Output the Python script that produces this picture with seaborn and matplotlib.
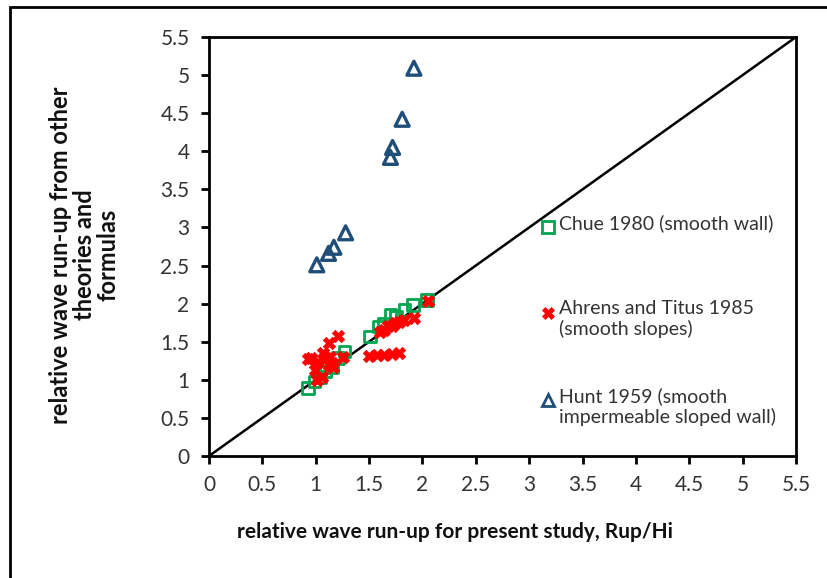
import matplotlib
matplotlib.use("Agg")
import matplotlib.pyplot as plt
import seaborn as sns
import pandas as pd
from matplotlib.patches import Rectangle

# Data
chue_x = [0.93, 0.99, 1.04, 1.09, 1.15, 1.21, 1.27, 1.51, 1.59, 1.64, 1.70, 1.75, 1.83, 1.91, 2.04]
chue_y = [0.89, 0.98, 1.04, 1.11, 1.17, 1.29, 1.37, 1.57, 1.70, 1.74, 1.85, 1.83, 1.92, 1.98, 2.05]

ahrens_x = [0.93, 0.96, 0.99, 1.01, 1.02, 1.06, 1.07, 1.10, 1.12, 1.12, 1.13, 1.16, 1.21, 1.26, 1.15,
            1.50, 1.57, 1.64, 1.71, 1.78,
            1.60, 1.64, 1.68, 1.71, 1.74, 1.78, 1.83, 1.92, 2.05]
ahrens_y = [1.27, 1.29, 1.13, 1.00, 1.24, 1.04, 1.35, 1.28, 1.19, 1.48, 1.30, 1.17, 1.57, 1.30, 1.22,
            1.31, 1.33, 1.33, 1.34, 1.35,
            1.63, 1.66, 1.70, 1.70, 1.74, 1.76, 1.78, 1.81, 2.03]

hunt_x = [1.01, 1.12, 1.17, 1.28, 1.70, 1.72, 1.81, 1.92]
hunt_y = [2.51, 2.66, 2.74, 2.93, 3.92, 4.05, 4.42, 5.09]

ticks = [0, 0.5, 1, 1.5, 2, 2.5, 3, 3.5, 4, 4.5, 5, 5.5]
tick_labels = ["0", "0.5", "1", "1.5", "2", "2.5", "3", "3.5", "4", "4.5", "5", "5.5"]

series_names = ["Chue 1980 (smooth wall)",
                "Ahrens and Titus 1985\n(smooth slopes)",
                "Hunt 1959 (smooth\nimpermeable sloped wall)"]

df = pd.concat([
    pd.DataFrame({"x": chue_x, "y": chue_y, "s": series_names[0]}),
    pd.DataFrame({"x": ahrens_x, "y": ahrens_y, "s": series_names[1]}),
    pd.DataFrame({"x": hunt_x, "y": hunt_y, "s": series_names[2]}),
])

green = "#00A550"
red = "#FF0000"
blue = "#1F4E79"

sns.set_style("white")
plt.rcParams["font.family"] = ["Lato", "DejaVu Sans"]

fig = plt.figure(figsize=(8.27, 5.78), dpi=100)
ax = fig.add_axes([209 / 827, 1 - 456 / 578, (796 - 209) / 827, (456 - 37) / 578])

# diagonal 1:1 line
ax.plot([0, 5.5], [0, 5.5], color="black", lw=1.8, zorder=1)

sub = df[df.s == series_names[0]]
sns.scatterplot(data=sub, x="x", y="y", ax=ax, marker="s", s=70,
                facecolor="none", edgecolor=green, linewidth=2, zorder=3)
sub = df[df.s == series_names[1]]
sns.scatterplot(data=sub, x="x", y="y", ax=ax, marker="X", s=80,
                color=red, edgecolor=red, linewidth=0.5, zorder=4)
sub = df[df.s == series_names[2]]
sns.scatterplot(data=sub, x="x", y="y", ax=ax, marker="^", s=100,
                facecolor="none", edgecolor=blue, linewidth=2.4, zorder=3)

ax.set_xlim(0, 5.5)
ax.set_ylim(0, 5.5)
ax.set_xticks(ticks)
ax.set_xticklabels(tick_labels)
ax.set_yticks(ticks)
ax.set_yticklabels(tick_labels)
ax.tick_params(axis="both", direction="out", length=6, width=2, color="black",
               labelsize=15, labelcolor="#333333", pad=8, left=True, bottom=True)
for sp in ax.spines.values():
    sp.set_visible(True)
    sp.set_color("black")
    sp.set_linewidth(2)

ax.set_xlabel("relative wave run-up for present study, Rup/Hi", fontsize=15,
              fontweight="bold", color="#111111")
ax.xaxis.set_label_coords((455 - 209) / 587, -0.158)
ax.set_ylabel("relative wave run-up from other\ntheories and\nformulas", fontsize=17,
              fontweight="bold", color="#111111", linespacing=1.05)
ax.yaxis.set_label_coords(-(209 - 120) / 587, (456 - 255) / 419)

# annotation-style legend
leg_y = [227, 313, 400]
markers = [dict(marker="s", mfc="none", mec=green, mew=2, ms=8),
           dict(marker="X", mfc=red, mec=red, mew=0.5, ms=8),
           dict(marker="^", mfc="none", mec=blue, mew=2, ms=9)]
for name, py, mk in zip(series_names, leg_y, markers):
    fx = 548 / 827
    fy = 1 - py / 578
    fig.lines.append(plt.Line2D([fx], [fy], transform=fig.transFigure, ls="none", **mk))
    fig.text(559 / 827, fy + 13 / 578, name, fontsize=14, color="#333333", va="top",
             ha="left", linespacing=1.2, transform=fig.transFigure)

# outer frame
fig.patches.append(Rectangle((10 / 827, -0.02), 1.0, 1 - 7 / 578 + 0.02,
                             transform=fig.transFigure, fill=False,
                             edgecolor="black", linewidth=2))

fig.savefig("out.png", dpi=100)
